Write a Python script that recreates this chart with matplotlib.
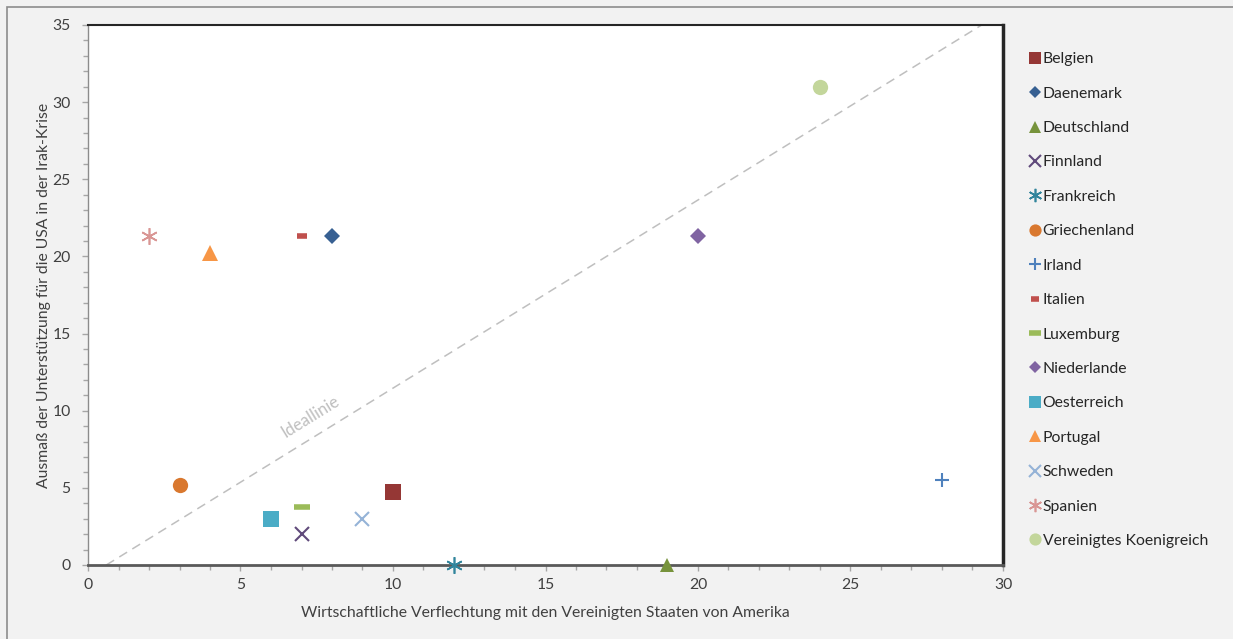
import matplotlib

matplotlib.use("Agg")
import matplotlib.pyplot as plt
from matplotlib.patches import Rectangle
from matplotlib.ticker import MultipleLocator

plt.rcParams["font.family"] = ["Lato", "DejaVu Sans"]

# Länderdaten: wirtschaftliche Verflechtung (x) und Unterstützung (y)
laender = [
    "Belgien", "Daenemark", "Deutschland", "Finnland", "Frankreich",
    "Griechenland", "Irland", "Italien", "Luxemburg", "Niederlande",
    "Oesterreich", "Portugal", "Schweden", "Spanien", "Vereinigtes Koenigreich",
]
verflechtung = [10, 8, 19, 7, 12, 3, 28, 7, 7, 20, 6, 4, 9, 2, 24]
unterstuetzung = [4.7, 21.3, 0, 2.0, 0, 5.2, 5.5, 21.3, 3.75, 21.3, 3.0, 20.2, 3.0, 21.3, 31.0]
farben = [
    "#953735", "#376092", "#77933c", "#604a7b", "#31859c",
    "#d9782f", "#4f81bd", "#c0504d", "#9bbb59", "#8064a2",
    "#4bacc6", "#f79646", "#95b3d7", "#d99694", "#c3d69b",
]
stern = (6, 2, 0)
marker = ["s", "D", "^", "x", stern, "o", "+", "_", "_", "D", "s", "^", "x", stern, "o"]
groessen = [11, 8, 10, 10, 12, 11, 10, 7, 11, 8, 11, 11, 10, 12, 11]

# Ideallinie (Endpunkte)
ideal_x = [0.6, 29.3]
ideal_y = [0, 35]

FS = 11.3

fig = plt.figure(figsize=(12.33, 6.39), dpi=100, facecolor="#f2f2f2")
fig.patches.append(Rectangle((7 / 1233, -0.1), 1.2, (639 - 7) / 639 + 0.1,
                             transform=fig.transFigure, fill=False,
                             edgecolor="#8c8c8c", linewidth=1.2))

ax = fig.add_axes([88 / 1233, 1 - 565 / 639, (1003 - 88) / 1233, (565 - 25) / 639])
ax.set_facecolor("white")

ax.plot(ideal_x, ideal_y, color="#bfbfbf", linestyle=(0, (6, 4)), linewidth=1.1, zorder=1)
ax.text(7.3, 9.6, "Ideallinie", rotation=31.7, color="#bfbfbf", fontsize=12,
        ha="center", va="center", rotation_mode="anchor")

for name, x, y, f, m, g in zip(laender, verflechtung, unterstuetzung, farben, marker, groessen):
    kw = {"color": f, "markersize": g, "linestyle": "none", "label": name}
    if m == stern:
        kw["markeredgewidth"] = 1.2
    elif m in ("x", "+"):
        kw["markeredgewidth"] = 1.5
    elif m == "_":
        kw["markeredgewidth"] = 4
    else:
        kw["markeredgewidth"] = 0
    ax.plot([x], [y], marker=m, clip_on=False, zorder=3, **kw)

ax.set_xlim(0, 30)
ax.set_ylim(0, 35)
ax.xaxis.set_major_locator(MultipleLocator(5))
ax.xaxis.set_minor_locator(MultipleLocator(1))
ax.yaxis.set_major_locator(MultipleLocator(5))
ax.yaxis.set_minor_locator(MultipleLocator(1))
ax.tick_params(which="both", direction="out", color="#a6a6a6", labelcolor="#404040",
               labelsize=FS, width=1)
ax.tick_params(which="major", length=4.5)
ax.tick_params(which="minor", length=3.5)
ax.tick_params(axis="x", pad=5)
ax.tick_params(axis="y", pad=8)

ax.spines["left"].set_color("#8c8c8c")
ax.spines["left"].set_linewidth(1)
ax.spines["bottom"].set_color("#595959")
ax.spines["bottom"].set_linewidth(2)
ax.spines["top"].set_color("#262626")
ax.spines["top"].set_linewidth(1.5)
ax.spines["right"].set_color("#262626")
ax.spines["right"].set_linewidth(2.5)

ax.set_xlabel("Wirtschaftliche Verflechtung mit den Vereinigten Staaten von Amerika",
              fontsize=FS, color="#404040", labelpad=10)
ax.set_ylabel("Ausmaß der Unterstützung für die USA in der Irak-Krise",
              fontsize=FS, color="#404040", labelpad=1)

fig.legend(loc="upper left", bbox_to_anchor=(1019 / 1233, 1 - 46 / 639),
           frameon=False, fontsize=FS, labelspacing=1.3, handletextpad=-0.1,
           handlelength=1.2, markerscale=0.8, labelcolor="#262626",
           borderaxespad=0)

fig.savefig("out.png", dpi=100, facecolor=fig.get_facecolor())
